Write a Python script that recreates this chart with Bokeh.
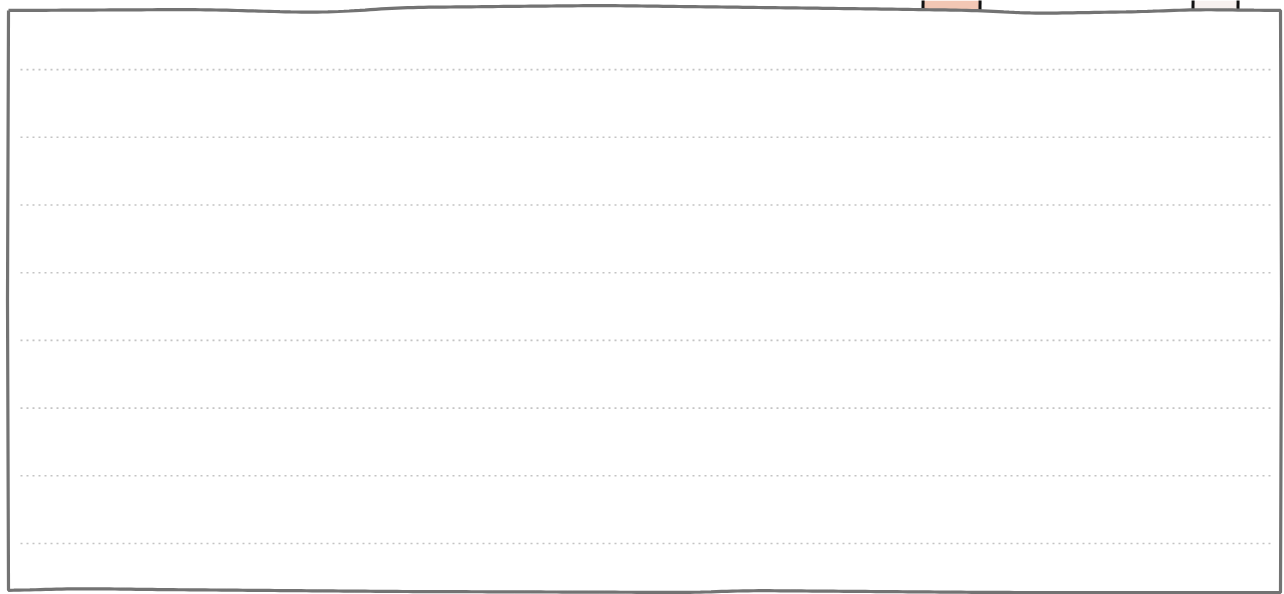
import numpy as np
from bokeh.plotting import figure
from bokeh.models import Range1d
from bokeh.embed import file_html
from bokeh.resources import INLINE

# ---- data ----
grid_values = [10, 20, 30, 40, 50, 60, 70, 80]
bar_centers = [951, 1215]          # x units
bar_widths = [57, 45]
bar_values = [130, 130]            # bars run past the top of the view
bar_colors = ["#f2c7b4", "#f7f1ef"]

W, H = 1284, 594
PX_PER_UNIT = 6.77                 # pixels per y unit
Y10_PX = 543                       # pixel (from top) of value 10
y_top = 10 + Y10_PX / PX_PER_UNIT
y_bottom = y_top - H / PX_PER_UNIT

def yv(px_from_top):
    return y_top - px_from_top / PX_PER_UNIT

p = figure(width=W, height=H, output_backend="svg", toolbar_location=None,
           x_range=Range1d(0, W), y_range=Range1d(y_bottom, y_top),
           min_border=0)
p.axis.visible = False
p.grid.visible = False
p.outline_line_color = None
p.background_fill_color = "white"
p.border_fill_color = "white"

# dotted grid lines
p.segment(x0=[20] * len(grid_values), x1=[1274] * len(grid_values),
          y0=grid_values, y1=grid_values,
          line_color="#c4c4c4", line_width=1.6, line_dash="2 4")

# bars (peeking above the frame): fill, then hand-drawn side edges
base = yv(10.5)
p.vbar(x=bar_centers, width=bar_widths, bottom=base, top=bar_values,
       fill_color=bar_colors, line_color=None)
cx = np.array(bar_centers, dtype=float)
hw = np.array(bar_widths, dtype=float) / 2
edge_x0 = np.concatenate([cx - hw, cx + hw])
edge_top = np.concatenate([bar_values, bar_values])
p.segment(x0=edge_x0, x1=edge_x0 + 1.5, y0=[base] * 4, y1=edge_top,
          line_color="#111111", line_width=3)

# hand-drawn style frame (pixel-space outline)
tx = np.array([8, 100, 200, 310, 345, 400, 600, 880, 980, 1030, 1150, 1190, 1280])
ty = np.array([10, 9.5, 9, 12, 11, 7, 5, 8.5, 10, 13, 11, 9, 10])
bx = np.array([8, 80, 150, 400, 700, 740, 1000, 1280])
by = np.array([590, 588, 589, 591, 592, 590, 592, 592])
n = 240
xs_top = np.linspace(8, 1280, n)
ys_top = np.interp(xs_top, tx, ty)
xs_bot = np.linspace(1280, 8, n)
ys_bot = np.interp(xs_bot, bx, by)
ker = np.ones(11) / 11
ys_top = np.convolve(np.pad(ys_top, 5, mode="edge"), ker, mode="valid")
ys_bot = np.convolve(np.pad(ys_bot, 5, mode="edge"), ker, mode="valid")
frame_x = np.concatenate([xs_top, [1281, 1280], xs_bot, [7, 8]])
frame_y = np.concatenate([ys_top, [300, ys_bot[0]], ys_bot, [300, ys_top[0]]])
p.line(frame_x, [yv(v) for v in frame_y], line_color="#737373", line_width=3.2)

open("out.html", "w").write(file_html(p, INLINE))
